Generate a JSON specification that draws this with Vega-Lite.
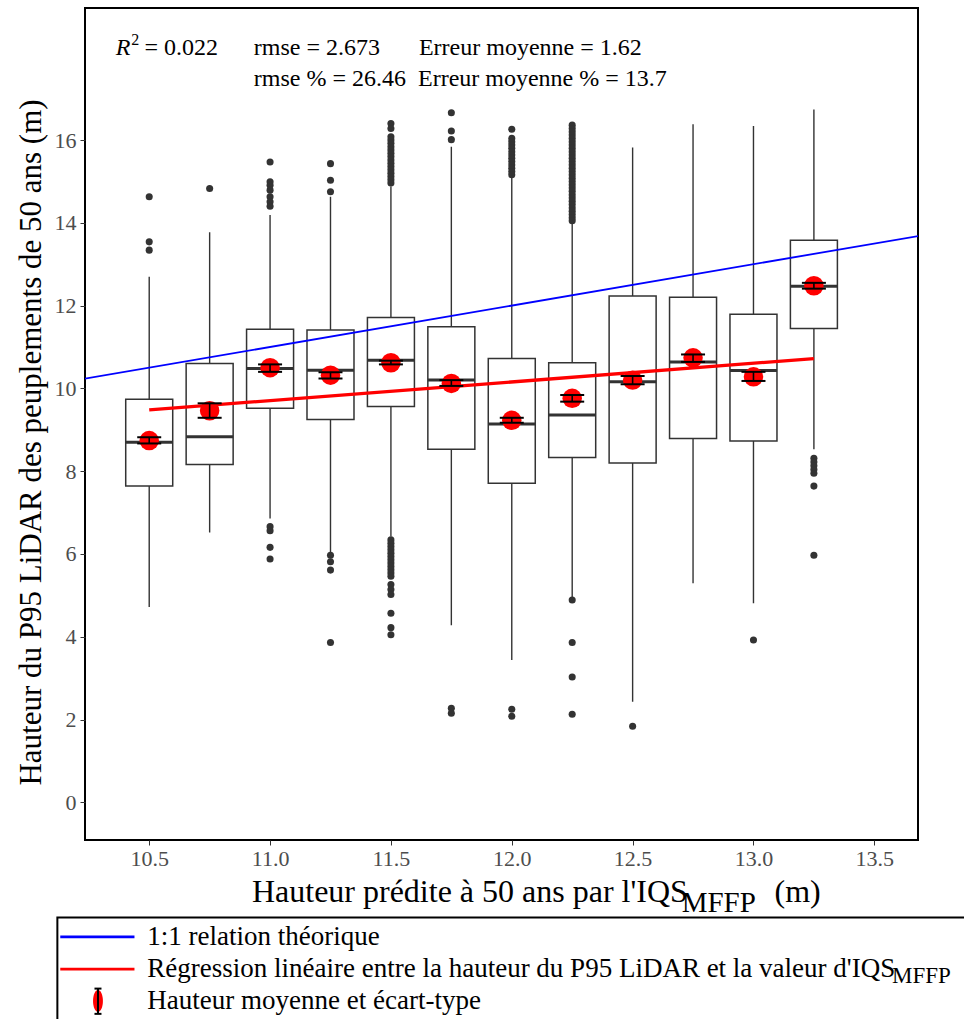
{
  "$schema": "https://vega.github.io/schema/vega-lite/v6.json",
  "width": 833,
  "height": 832,
  "autosize": "none",
  "padding": {"left": 85, "top": 8, "right": 46, "bottom": 179},
  "background": "white",
  "config": {"font": "Liberation Serif", "view": {"stroke": "black", "strokeWidth": 2}},
  "datasets": {
    "boxes": [
      {"x": 10.5, "lo": 4.72, "q1": 7.64, "med": 8.70, "q3": 9.74, "hi": 12.70, "mean": 8.74, "sdlo": 8.67, "sdhi": 8.82},
      {"x": 10.75, "lo": 6.52, "q1": 8.16, "med": 8.83, "q3": 10.60, "hi": 13.77, "mean": 9.46, "sdlo": 9.29, "sdhi": 9.64},
      {"x": 11.0, "lo": 6.86, "q1": 9.52, "med": 10.48, "q3": 11.43, "hi": 14.19, "mean": 10.50, "sdlo": 10.40, "sdhi": 10.58},
      {"x": 11.25, "lo": 6.05, "q1": 9.25, "med": 10.44, "q3": 11.41, "hi": 14.63, "mean": 10.32, "sdlo": 10.24, "sdhi": 10.39},
      {"x": 11.5, "lo": 6.42, "q1": 9.56, "med": 10.68, "q3": 11.71, "hi": 14.87, "mean": 10.62, "sdlo": 10.58, "sdhi": 10.67},
      {"x": 11.75, "lo": 4.28, "q1": 8.53, "med": 10.20, "q3": 11.49, "hi": 15.84, "mean": 10.12, "sdlo": 10.06, "sdhi": 10.20},
      {"x": 12.0, "lo": 3.44, "q1": 7.71, "med": 9.14, "q3": 10.72, "hi": 15.13, "mean": 9.23, "sdlo": 9.17, "sdhi": 9.29},
      {"x": 12.25, "lo": 4.95, "q1": 8.33, "med": 9.36, "q3": 10.62, "hi": 13.99, "mean": 9.76, "sdlo": 9.68, "sdhi": 9.84},
      {"x": 12.5, "lo": 2.43, "q1": 8.20, "med": 10.16, "q3": 12.23, "hi": 15.82, "mean": 10.20, "sdlo": 10.10, "sdhi": 10.30},
      {"x": 12.75, "lo": 5.29, "q1": 8.79, "med": 10.64, "q3": 12.20, "hi": 16.38, "mean": 10.74, "sdlo": 10.64, "sdhi": 10.82},
      {"x": 13.0, "lo": 4.81, "q1": 8.73, "med": 10.43, "q3": 11.79, "hi": 16.34, "mean": 10.28, "sdlo": 10.18, "sdhi": 10.40},
      {"x": 13.25, "lo": 8.53, "q1": 11.45, "med": 12.47, "q3": 13.58, "hi": 16.74, "mean": 12.48, "sdlo": 12.41, "sdhi": 12.55}
    ],
    "outliers": [
      {"x": 10.5, "y": 14.63}, {"x": 10.5, "y": 13.54}, {"x": 10.5, "y": 13.34},
      {"x": 10.75, "y": 14.83},
      {"x": 11.0, "y": 15.47}, {"x": 11.0, "y": 14.99}, {"x": 11.0, "y": 14.91}, {"x": 11.0, "y": 14.79}, {"x": 11.0, "y": 14.63}, {"x": 11.0, "y": 14.51}, {"x": 11.0, "y": 14.40},
      {"x": 11.0, "y": 6.66}, {"x": 11.0, "y": 6.56}, {"x": 11.0, "y": 6.16}, {"x": 11.0, "y": 5.88},
      {"x": 11.25, "y": 15.43}, {"x": 11.25, "y": 15.03}, {"x": 11.25, "y": 14.75},
      {"x": 11.25, "y": 5.97}, {"x": 11.25, "y": 5.81}, {"x": 11.25, "y": 5.61}, {"x": 11.25, "y": 3.86},
      {"x": 11.5, "y": 16.40}, {"x": 11.5, "y": 16.28}, {"x": 11.5, "y": 16.08}, {"x": 11.5, "y": 16.00}, {"x": 11.5, "y": 15.92}, {"x": 11.5, "y": 15.84}, {"x": 11.5, "y": 15.76}, {"x": 11.5, "y": 15.68}, {"x": 11.5, "y": 15.60}, {"x": 11.5, "y": 15.52}, {"x": 11.5, "y": 15.44}, {"x": 11.5, "y": 15.36}, {"x": 11.5, "y": 15.28}, {"x": 11.5, "y": 15.20}, {"x": 11.5, "y": 15.12}, {"x": 11.5, "y": 15.04}, {"x": 11.5, "y": 14.96},
      {"x": 11.5, "y": 6.34}, {"x": 11.5, "y": 6.26}, {"x": 11.5, "y": 6.18}, {"x": 11.5, "y": 6.10}, {"x": 11.5, "y": 6.02}, {"x": 11.5, "y": 5.94}, {"x": 11.5, "y": 5.86}, {"x": 11.5, "y": 5.78}, {"x": 11.5, "y": 5.70}, {"x": 11.5, "y": 5.62}, {"x": 11.5, "y": 5.54}, {"x": 11.5, "y": 5.46}, {"x": 11.5, "y": 5.26}, {"x": 11.5, "y": 5.14}, {"x": 11.5, "y": 5.02}, {"x": 11.5, "y": 4.57}, {"x": 11.5, "y": 4.22}, {"x": 11.5, "y": 4.05},
      {"x": 11.75, "y": 16.66}, {"x": 11.75, "y": 16.22}, {"x": 11.75, "y": 16.01}, {"x": 11.75, "y": 2.27}, {"x": 11.75, "y": 2.15},
      {"x": 12.0, "y": 16.26}, {"x": 12.0, "y": 16.04}, {"x": 12.0, "y": 15.96}, {"x": 12.0, "y": 15.88}, {"x": 12.0, "y": 15.80}, {"x": 12.0, "y": 15.72}, {"x": 12.0, "y": 15.64}, {"x": 12.0, "y": 15.56}, {"x": 12.0, "y": 15.48}, {"x": 12.0, "y": 15.40}, {"x": 12.0, "y": 15.32}, {"x": 12.0, "y": 15.24}, {"x": 12.0, "y": 15.16},
      {"x": 12.0, "y": 2.25}, {"x": 12.0, "y": 2.08},
      {"x": 12.25, "y": 16.36}, {"x": 12.25, "y": 16.28}, {"x": 12.25, "y": 16.20}, {"x": 12.25, "y": 16.12}, {"x": 12.25, "y": 16.04}, {"x": 12.25, "y": 15.96}, {"x": 12.25, "y": 15.88}, {"x": 12.25, "y": 15.80}, {"x": 12.25, "y": 15.72}, {"x": 12.25, "y": 15.64}, {"x": 12.25, "y": 15.56}, {"x": 12.25, "y": 15.48}, {"x": 12.25, "y": 15.40}, {"x": 12.25, "y": 15.32}, {"x": 12.25, "y": 15.24}, {"x": 12.25, "y": 15.16}, {"x": 12.25, "y": 15.08}, {"x": 12.25, "y": 15.00}, {"x": 12.25, "y": 14.92}, {"x": 12.25, "y": 14.84}, {"x": 12.25, "y": 14.76}, {"x": 12.25, "y": 14.68}, {"x": 12.25, "y": 14.60}, {"x": 12.25, "y": 14.52}, {"x": 12.25, "y": 14.44}, {"x": 12.25, "y": 14.36}, {"x": 12.25, "y": 14.28}, {"x": 12.25, "y": 14.20}, {"x": 12.25, "y": 14.12}, {"x": 12.25, "y": 14.05},
      {"x": 12.25, "y": 4.89}, {"x": 12.25, "y": 3.86}, {"x": 12.25, "y": 3.03}, {"x": 12.25, "y": 2.13},
      {"x": 12.5, "y": 1.84},
      {"x": 13.0, "y": 3.92},
      {"x": 13.25, "y": 8.31}, {"x": 13.25, "y": 8.22}, {"x": 13.25, "y": 8.13}, {"x": 13.25, "y": 8.04}, {"x": 13.25, "y": 7.95}, {"x": 13.25, "y": 7.64}, {"x": 13.25, "y": 5.97}
    ]
  },
  "layer": [
    {
      "data": {"name": "boxes"},
      "mark": {"type": "rule", "color": "#333333", "strokeWidth": 1.4},
      "encoding": {
        "x": {"field": "x", "type": "quantitative",
          "scale": {"domain": [10.255, 13.66], "nice": false, "zero": false},
          "axis": {"values": [10.5, 11, 11.5, 12, 12.5, 13, 13.5], "format": ".1f", "title": null, "grid": false, "domain": false,
            "labelFont": "Liberation Serif", "labelFontSize": 22, "labelColor": "#4D4D4D", "tickColor": "#333333", "tickSize": 5, "labelPadding": 3}},
        "y": {"field": "lo", "type": "quantitative",
          "scale": {"domain": [-0.91, 19.19], "nice": false, "zero": false},
          "axis": {"values": [0, 2, 4, 6, 8, 10, 12, 14, 16], "grid": false, "domain": false,
            "title": "Hauteur du P95 LiDAR des peuplements de 50 ans (m)",
            "titleFont": "Liberation Serif", "titleFontSize": 31, "titleFontWeight": "normal", "titleColor": "black",
            "titleX": -45, "titleY": 434, "titleBaseline": "alphabetic",
            "labelFont": "Liberation Serif", "labelFontSize": 22, "labelColor": "#4D4D4D", "tickColor": "#333333", "tickSize": 5, "labelPadding": 4}},
        "y2": {"field": "hi"}
      }
    },
    {
      "data": {"name": "boxes"},
      "mark": {"type": "bar", "width": 47, "fill": "white", "stroke": "#333333", "strokeWidth": 1.5},
      "encoding": {
        "x": {"field": "x", "type": "quantitative"},
        "y": {"field": "q1", "type": "quantitative"},
        "y2": {"field": "q3"}
      }
    },
    {
      "data": {"name": "boxes"},
      "mark": {"type": "tick", "orient": "horizontal", "size": 47, "thickness": 3, "color": "#333333", "opacity": 1},
      "encoding": {
        "x": {"field": "x", "type": "quantitative"},
        "y": {"field": "med", "type": "quantitative"}
      }
    },
    {
      "data": {"name": "outliers"},
      "mark": {"type": "circle", "size": 50, "color": "#333333", "opacity": 1},
      "encoding": {
        "x": {"field": "x", "type": "quantitative"},
        "y": {"field": "y", "type": "quantitative"}
      }
    },
    {
      "data": {"values": [{"x": 10.0, "y": 10.0}, {"x": 14.0, "y": 14.0}]},
      "mark": {"type": "line", "color": "#0000FF", "strokeWidth": 1.8, "clip": true},
      "encoding": {
        "x": {"field": "x", "type": "quantitative"},
        "y": {"field": "y", "type": "quantitative"}
      }
    },
    {
      "data": {"values": [{"x": 10.5, "y": 9.48}, {"x": 13.25, "y": 10.72}]},
      "mark": {"type": "line", "color": "#FF0000", "strokeWidth": 3.3},
      "encoding": {
        "x": {"field": "x", "type": "quantitative"},
        "y": {"field": "y", "type": "quantitative"}
      }
    },
    {
      "data": {"name": "boxes"},
      "mark": {"type": "circle", "size": 380, "color": "#FF0000", "opacity": 1},
      "encoding": {
        "x": {"field": "x", "type": "quantitative"},
        "y": {"field": "mean", "type": "quantitative"}
      }
    },
    {
      "data": {"name": "boxes"},
      "mark": {"type": "rule", "color": "black", "strokeWidth": 1.6},
      "encoding": {
        "x": {"field": "x", "type": "quantitative"},
        "y": {"field": "sdlo", "type": "quantitative"},
        "y2": {"field": "sdhi"}
      }
    },
    {
      "data": {"name": "boxes"},
      "mark": {"type": "tick", "orient": "horizontal", "size": 24, "thickness": 2, "color": "black", "opacity": 1},
      "encoding": {
        "x": {"field": "x", "type": "quantitative"},
        "y": {"field": "sdlo", "type": "quantitative"}
      }
    },
    {
      "data": {"name": "boxes"},
      "mark": {"type": "tick", "orient": "horizontal", "size": 24, "thickness": 2, "color": "black", "opacity": 1},
      "encoding": {
        "x": {"field": "x", "type": "quantitative"},
        "y": {"field": "sdhi", "type": "quantitative"}
      }
    },
    {
      "data": {"values": [{"x": 10.362, "y": 18.05, "label": "R"}]},
      "mark": {"type": "text", "font": "Liberation Serif", "fontSize": 24, "fontStyle": "italic", "align": "left", "baseline": "alphabetic", "color": "black"},
      "encoding": {
        "x": {"field": "x", "type": "quantitative"},
        "y": {"field": "y", "type": "quantitative"},
        "text": {"field": "label"}
      }
    },
    {
      "data": {"values": [{"x": 10.426, "y": 18.29, "label": "2"}]},
      "mark": {"type": "text", "font": "Liberation Serif", "fontSize": 16, "align": "left", "baseline": "alphabetic", "color": "black"},
      "encoding": {
        "x": {"field": "x", "type": "quantitative"},
        "y": {"field": "y", "type": "quantitative"},
        "text": {"field": "label"}
      }
    },
    {
      "data": {"values": [
        {"x": 10.48, "y": 18.05, "label": "= 0.022"},
        {"x": 10.933, "y": 18.05, "label": "rmse = 2.673"},
        {"x": 11.616, "y": 18.05, "label": "Erreur moyenne = 1.62"},
        {"x": 10.933, "y": 17.30, "label": "rmse % = 26.46"},
        {"x": 11.612, "y": 17.30, "label": "Erreur moyenne % = 13.7"}
      ]},
      "mark": {"type": "text", "font": "Liberation Serif", "fontSize": 24, "align": "left", "baseline": "alphabetic", "color": "black"},
      "encoding": {
        "x": {"field": "x", "type": "quantitative"},
        "y": {"field": "y", "type": "quantitative"},
        "text": {"field": "label"}
      }
    },
    {
      "data": {"values": [
        {"x": 10.925, "y": -2.40, "label": "Hauteur prédite à 50 ans par l'IQS"},
        {"x": 13.087, "y": -2.40, "label": "(m)"}
      ]},
      "mark": {"type": "text", "font": "Liberation Serif", "fontSize": 32, "align": "left", "baseline": "alphabetic", "color": "black"},
      "encoding": {
        "x": {"field": "x", "type": "quantitative"},
        "y": {"field": "y", "type": "quantitative"},
        "text": {"field": "label"}
      }
    },
    {
      "data": {"values": [{"x": 12.703, "y": -2.64, "label": "MFFP"}]},
      "mark": {"type": "text", "font": "Liberation Serif", "fontSize": 29, "align": "left", "baseline": "alphabetic", "color": "black"},
      "encoding": {
        "x": {"field": "x", "type": "quantitative"},
        "y": {"field": "y", "type": "quantitative"},
        "text": {"field": "label"}
      }
    },
    {
      "data": {"values": [{"x1": 10.12, "x2": 14.3, "y1": -2.78, "y2": -6.5}]},
      "mark": {"type": "rect", "fill": null, "fillOpacity": 0, "stroke": "black", "strokeWidth": 2},
      "encoding": {
        "x": {"field": "x1", "type": "quantitative"},
        "x2": {"field": "x2"},
        "y": {"field": "y1", "type": "quantitative"},
        "y2": {"field": "y2"}
      }
    },
    {
      "data": {"values": [{"x1": 10.132, "x2": 10.439, "y": -3.25, "c": "blue"}, {"x1": 10.132, "x2": 10.439, "y": -4.03, "c": "red"}]},
      "mark": {"type": "rule", "strokeWidth": 2.8},
      "encoding": {
        "x": {"field": "x1", "type": "quantitative"},
        "x2": {"field": "x2"},
        "y": {"field": "y", "type": "quantitative"},
        "color": {"field": "c", "type": "nominal", "scale": {"domain": ["blue", "red"], "range": ["#0000FF", "#FF0000"]}, "legend": null}
      }
    },
    {
      "data": {"values": [{"x": 10.288, "y": -4.80}]},
      "mark": {"type": "point", "shape": "M-0.45,0A0.45,1 0 1,0 0.45,0A0.45,1 0 1,0 -0.45,0Z", "size": 480, "filled": true, "color": "#FF0000", "opacity": 1},
      "encoding": {
        "x": {"field": "x", "type": "quantitative"},
        "y": {"field": "y", "type": "quantitative"}
      }
    },
    {
      "data": {"values": [{"x": 10.288, "y1": -4.50, "y2": -5.11}]},
      "mark": {"type": "rule", "color": "black", "strokeWidth": 2},
      "encoding": {
        "x": {"field": "x", "type": "quantitative"},
        "y": {"field": "y1", "type": "quantitative"},
        "y2": {"field": "y2"}
      }
    },
    {
      "data": {"values": [{"x": 10.288, "y": -4.50}, {"x": 10.288, "y": -5.11}]},
      "mark": {"type": "tick", "orient": "horizontal", "size": 7, "thickness": 2, "color": "black", "opacity": 1},
      "encoding": {
        "x": {"field": "x", "type": "quantitative"},
        "y": {"field": "y", "type": "quantitative"}
      }
    },
    {
      "data": {"values": [
        {"x": 10.492, "y": -3.25, "label": "1:1 relation théorique"},
        {"x": 10.492, "y": -4.03, "label": "Régression linéaire entre la hauteur du P95 LiDAR et la valeur d'IQS"},
        {"x": 10.492, "y": -4.80, "label": "Hauteur moyenne et écart-type"}
      ]},
      "mark": {"type": "text", "font": "Liberation Serif", "fontSize": 27, "align": "left", "baseline": "middle", "color": "black"},
      "encoding": {
        "x": {"field": "x", "type": "quantitative"},
        "y": {"field": "y", "type": "quantitative"},
        "text": {"field": "label"}
      }
    },
    {
      "data": {"values": [{"x": 13.573, "y": -4.19, "label": "MFFP"}]},
      "mark": {"type": "text", "font": "Liberation Serif", "fontSize": 23, "align": "left", "baseline": "middle", "color": "black"},
      "encoding": {
        "x": {"field": "x", "type": "quantitative"},
        "y": {"field": "y", "type": "quantitative"},
        "text": {"field": "label"}
      }
    }
  ]
}
